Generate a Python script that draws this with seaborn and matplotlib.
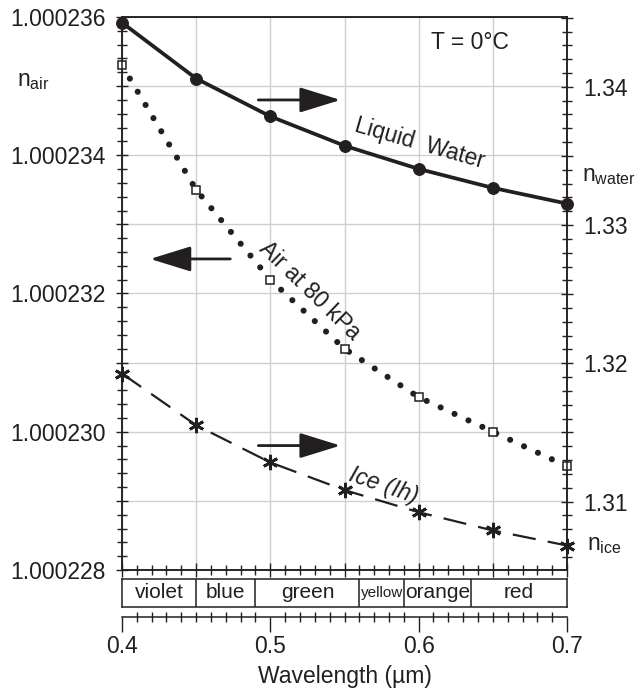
import numpy as np
import pandas as pd
import matplotlib
matplotlib.use("Agg")
import matplotlib.pyplot as plt
import seaborn as sns
from matplotlib.ticker import MultipleLocator, FuncFormatter, NullFormatter

# ---------------- data ----------------
wavelength = [0.40, 0.45, 0.50, 0.55, 0.60, 0.65, 0.70]
n_water = [1.34464, 1.34060, 1.33786, 1.33574, 1.33406, 1.33269, 1.33155]
n_air = [1.0002353, 1.0002335, 1.0002322, 1.0002312, 1.0002305, 1.0002300, 1.0002295]
n_ice = [1.31926, 1.31552, 1.31283, 1.31083, 1.30923, 1.30791, 1.30682]

band_names = ["violet", "blue", "green", "yellow", "orange", "red"]
band_edges = [0.40, 0.45, 0.49, 0.56, 0.59, 0.635, 0.70]

x_tick_labels = [0.4, 0.5, 0.6, 0.7]
left_tick_labels = [1.000228, 1.000230, 1.000232, 1.000234, 1.000236]
right_tick_labels = [1.31, 1.32, 1.33, 1.34]

# ---------------- style ----------------
sns.set_theme(style="ticks")
plt.rcParams["font.family"] = ["Liberation Sans", "DejaVu Sans"]
plt.rcParams["mathtext.fontset"] = "custom"
plt.rcParams["mathtext.rm"] = "Liberation Sans"
plt.rcParams["mathtext.it"] = "Liberation Sans:italic"

INK = "#231f20"
FS = 16.5
W, H = 641, 692
fig = plt.figure(figsize=(W / 100, H / 100), dpi=100)

def fr(x0, y_top, x1, y_bot):
    return [x0 / W, 1 - y_bot / H, (x1 - x0) / W, (y_bot - y_top) / H]

ax = fig.add_axes(fr(122, 17, 567, 570))
ax2 = ax.twinx()

df = pd.DataFrame({"wavelength": wavelength, "n_water": n_water,
                   "n_air": n_air, "n_ice": n_ice})

# air on left axis
sns.lineplot(data=df, x="wavelength", y="n_air", ax=ax, color=INK,
             lw=4.4, linestyle=(0, (0.01, 2.5)), dash_capstyle="round",
             marker="s", ms=5.5, mfc="white", mec=INK, mew=1.1, zorder=3,
             clip_on=False)

# water & ice on right axis
sns.lineplot(data=df, x="wavelength", y="n_water", ax=ax2, color=INK,
             lw=2.7, marker="o", ms=8.5, mec=INK, mfc=INK, zorder=3,
             clip_on=False)
sns.lineplot(data=df, x="wavelength", y="n_ice", ax=ax2, color=INK,
             lw=1.6, linestyle=(0, (10.5, 5.5)), marker=(6, 2, 0), ms=11,
             mec=INK, mew=2.0, zorder=3, clip_on=False)

ax.set_xlim(0.4, 0.7)
ax.set_ylim(1.000228, 1.000236)
ax2.set_ylim(1.30505, 1.34505)

ax.set_xlabel("")
ax.set_ylabel("")
ax2.set_ylabel("")

# grid
ax.xaxis.set_major_locator(MultipleLocator(0.05))
ax.xaxis.set_minor_locator(MultipleLocator(0.01))
ax.xaxis.set_major_formatter(NullFormatter())
ax.yaxis.set_major_locator(MultipleLocator(1e-6))
ax.yaxis.set_minor_locator(MultipleLocator(2e-7))

def left_fmt(v, pos):
    k = int(round(v * 1e6))
    if k % 2 == 0:
        return f"{v:.6f}"
    return ""

ax.yaxis.set_major_formatter(FuncFormatter(left_fmt))
ax.grid(True, which="major", color="#cfcfcf", lw=1.0)
ax.set_axisbelow(True)

ax.tick_params(axis="y", which="major", direction="inout", length=9, width=1,
               labelsize=FS, pad=7, colors=INK)
ax.tick_params(axis="y", which="minor", direction="inout", length=7, width=1, colors=INK)
ax.tick_params(axis="x", which="major", direction="inout", length=10, width=1, colors=INK)
ax.tick_params(axis="x", which="minor", direction="inout", length=7, width=1, colors=INK)

ax2.yaxis.set_major_locator(MultipleLocator(0.005))
ax2.yaxis.set_minor_locator(MultipleLocator(0.001))

def right_fmt(v, pos):
    k = int(round(v * 1000))
    if k % 10 == 0:
        return f"{v:.2f}"
    return ""

ax2.yaxis.set_major_formatter(FuncFormatter(right_fmt))
ax2.tick_params(axis="y", which="major", direction="inout", length=8, width=1,
                labelsize=FS, pad=8, colors=INK)
ax2.tick_params(axis="y", which="minor", direction="inout", length=7, width=1, colors=INK)
ax2.grid(False)

for a in (ax, ax2):
    for s in a.spines.values():
        s.set_color(INK)
        s.set_linewidth(1.1)

# arrows (left-axis data coordinates)
ap = dict(arrowstyle="-|>,head_length=2.1,head_width=0.65", lw=2, color=INK,
          shrinkA=0, shrinkB=0)
ax.annotate("", xy=(0.5473, 1.0002348), xytext=(0.4919, 1.0002348), arrowprops=ap)
ax.annotate("", xy=(0.4190, 1.0002325), xytext=(0.4730, 1.0002325), arrowprops=ap)
ax.annotate("", xy=(0.5473, 1.0002298), xytext=(0.4919, 1.0002298), arrowprops=ap)

# in-plot labels
ax.text(0.782, 0.953, "T = 0°C", transform=ax.transAxes, fontsize=FS,
        ha="center", va="center", color=INK)
ax.text(0.668, 0.772, "Liquid  Water", transform=ax.transAxes, fontsize=FS,
        ha="center", va="center", rotation=-16, color=INK)
ax.text(0.4225, 0.505, "Air at 80 kPa", transform=ax.transAxes, fontsize=FS,
        ha="center", va="center", rotation=-44, color=INK)
ax.text(0.5865, 0.153, "Ice (Ih)", transform=ax.transAxes, fontsize=FS,
        ha="center", va="center", rotation=-19, style="italic", color=INK)

# axis name labels
fig.text(17 / W, 1 - 80 / H, r"n$_{\mathrm{air}}$", fontsize=FS, ha="left",
         va="center", color=INK)
fig.text(582 / W, 1 - 175 / H, r"n$_{\mathrm{water}}$", fontsize=FS, ha="left",
         va="center", color=INK)
fig.text(587 / W, 1 - 545 / H, r"n$_{\mathrm{ice}}$", fontsize=FS, ha="left",
         va="center", color=INK)

# colour band
axb = fig.add_axes(fr(122, 579, 567, 607))
axb.set_xlim(0.4, 0.7)
axb.set_ylim(0, 1)
axb.set_xticks([])
axb.set_yticks([])
for s in axb.spines.values():
    s.set_color(INK)
    s.set_linewidth(1.1)
axb.vlines(band_edges[1:-1], 0, 1, color=INK, lw=1.1)
for i, name in enumerate(band_names):
    mid = (band_edges[i] + band_edges[i + 1]) / 2
    axb.text(mid, 0.5, name, fontsize=11 if name == "yellow" else 15,
             ha="center", va="center", color=INK)

# lower wavelength axis
axx = fig.add_axes(fr(122, 616.5, 567, 617))
axx.set_xlim(0.4, 0.7)
axx.set_yticks([])
for side in ("top", "left", "right"):
    axx.spines[side].set_visible(False)
axx.spines["bottom"].set_color(INK)
axx.spines["bottom"].set_linewidth(1.1)
axx.patch.set_alpha(0)
axx.set_xticks(x_tick_labels)
axx.set_xticklabels([f"{v:.1f}" for v in x_tick_labels])
axx.xaxis.set_minor_locator(MultipleLocator(0.01))
axx.tick_params(axis="x", which="major", direction="out", length=11, width=1,
                labelsize=FS, pad=2, colors=INK)
axx.tick_params(axis="x", which="minor", direction="inout", length=7, width=1, colors=INK)

fig.text(345 / W, 1 - 677 / H, "Wavelength (µm)", fontsize=FS, ha="center",
         va="center", color=INK)

fig.savefig("out.png", dpi=100)
